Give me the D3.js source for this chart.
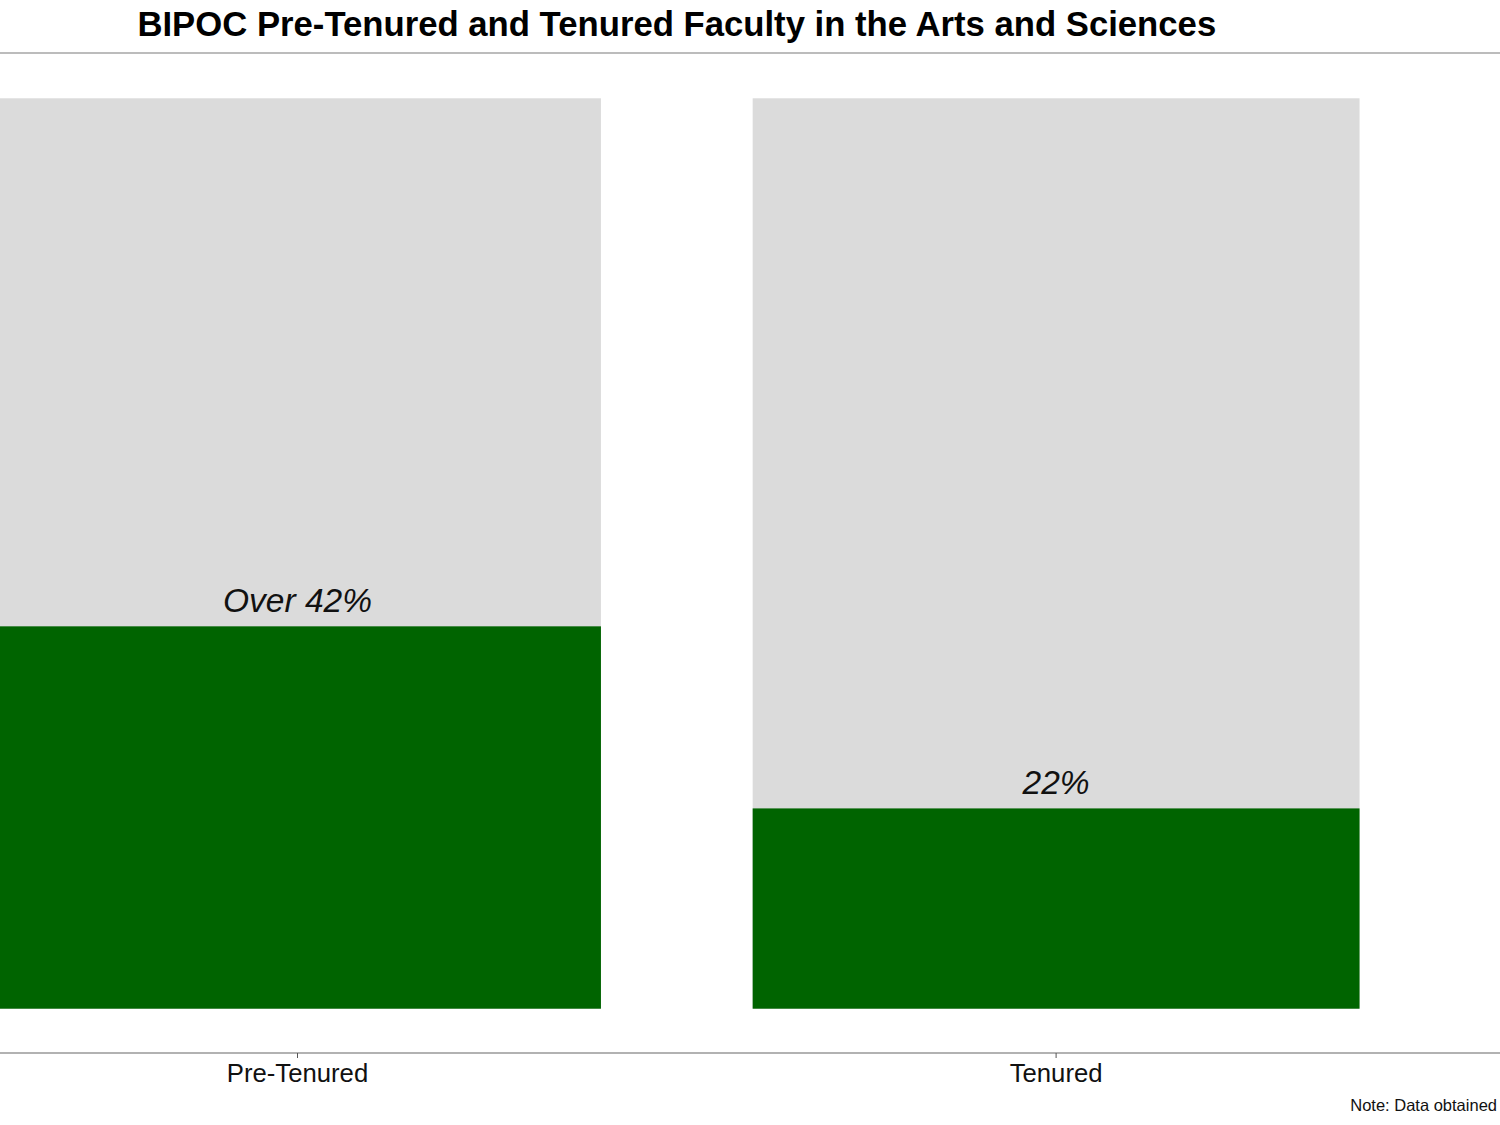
<!DOCTYPE html>
<meta charset="utf-8">
<script src="https://d3js.org/d3.v7.min.js"></script>
<style>
  body { margin: 0; background: #fff; }
  text { font-family: "Liberation Sans", Arial, sans-serif; }
</style>
<div id="chart"></div>
<script>
  const width = 1500, height = 1125;

  // data
  const categories = ["Pre-Tenured", "Tenured"];
  const shares = [0.42, 0.22];
  const barLabels = ["Over 42%", "22%"];
  const titleText = "BIPOC Pre-Tenured and Tenured Faculty in the Arts and Sciences";
  const noteText = "Note: Data obtained";

  const svg = d3.select("#chart").append("svg")
    .attr("width", width)
    .attr("height", height);

  // panel runs a little past both edges, as in the original
  const x = d3.scaleBand()
    .domain(categories)
    .range([-81.8, 1435.4])
    .paddingInner(0.2)
    .paddingOuter(0.1);

  const y = d3.scaleLinear()
    .domain([0, 1])
    .range([1008.7, 98.3]);

  // title + rule under it
  svg.append("text")
    .attr("x", (x.range()[0] + x.range()[1]) / 2)
    .attr("y", 35.5)
    .attr("text-anchor", "middle")
    .style("font-size", "34.7px")
    .style("font-weight", "bold")
    .attr("fill", "#000")
    .text(titleText);

  svg.append("line")
    .attr("x1", 0).attr("x2", width)
    .attr("y1", 53).attr("y2", 53)
    .attr("stroke", "#7a7a7a")
    .attr("stroke-width", 1.2);

  const data = categories.map((c, i) => ({ cat: c, value: shares[i], label: barLabels[i] }));

  // gray background bars (100%)
  svg.selectAll(".bg")
    .data(data)
    .join("rect")
    .attr("class", "bg")
    .attr("x", d => x(d.cat))
    .attr("width", x.bandwidth())
    .attr("y", y(1))
    .attr("height", y(0) - y(1))
    .attr("fill", "#dbdbdb");

  // green share bars
  svg.selectAll(".bar")
    .data(data)
    .join("rect")
    .attr("class", "bar")
    .attr("x", d => x(d.cat))
    .attr("width", x.bandwidth())
    .attr("y", d => y(d.value))
    .attr("height", d => y(0) - y(d.value))
    .attr("fill", "#006400");

  svg.selectAll(".lbl")
    .data(data)
    .join("text")
    .attr("class", "lbl")
    .attr("x", d => x(d.cat) + x.bandwidth() / 2)
    .attr("y", d => y(d.value) - 14.5)
    .attr("text-anchor", "middle")
    .style("font-size", "33.5px")
    .style("font-style", "italic")
    .attr("fill", "#111")
    .text(d => d.label);

  // x axis
  const axis = svg.append("g")
    .attr("transform", "translate(0,1053)")
    .call(d3.axisBottom(x).tickSize(5).tickSizeOuter(0).tickPadding(6));

  axis.select(".domain").remove();
  axis.insert("line", ":first-child")
    .attr("x1", 0).attr("x2", width)
    .attr("stroke", "#999")
    .attr("stroke-width", 1.5);
  axis.selectAll(".tick line").attr("stroke", "#555");
  axis.selectAll(".tick text")
    .style("font-size", "25.7px")
    .style("font-family", "'Liberation Sans', Arial, sans-serif")
    .attr("fill", "#111");

  svg.append("text")
    .attr("x", 1497)
    .attr("y", 1111)
    .attr("text-anchor", "end")
    .style("font-size", "16.5px")
    .attr("fill", "#111")
    .text(noteText);
</script>
